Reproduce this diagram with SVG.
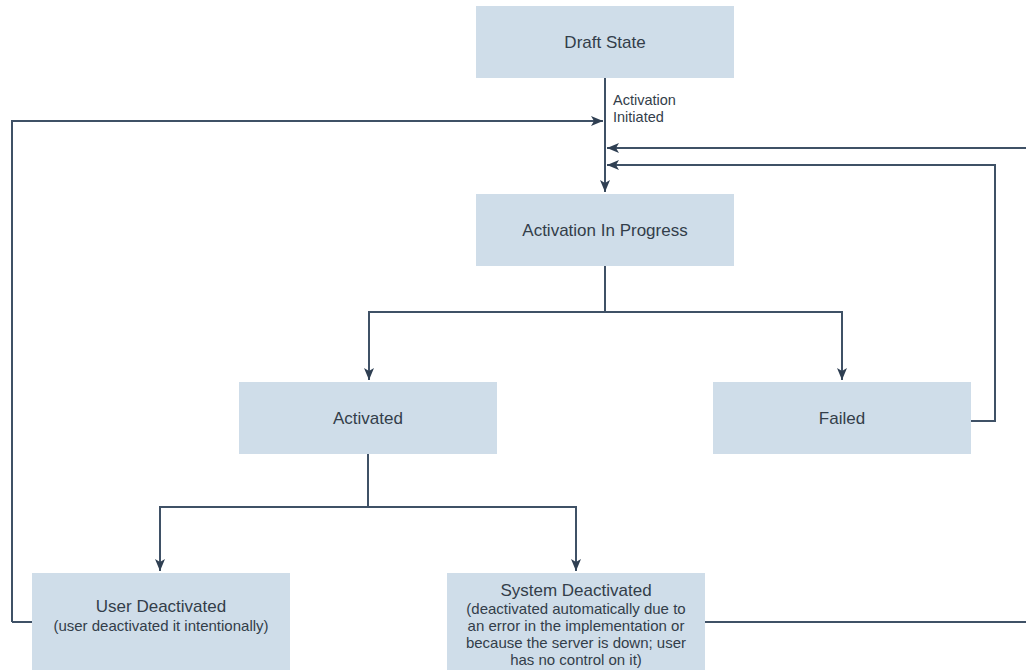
<svg xmlns="http://www.w3.org/2000/svg" width="1026" height="670" viewBox="0 0 1026 670">
<style>
.box{fill:#cfdde9}
.t{font-family:"Liberation Sans",Arial,sans-serif;font-size:17px;fill:#333e4a;text-anchor:middle}
.s{font-family:"Liberation Sans",Arial,sans-serif;font-size:15px;fill:#333e4a;text-anchor:middle}
.l{font-family:"Liberation Sans",Arial,sans-serif;font-size:14.5px;fill:#333e4a}
.c{fill:none;stroke:#3f5166;stroke-width:2}
</style>
<defs>
<marker id="a" viewBox="0 0 12 10" refX="12" refY="5" markerWidth="12" markerHeight="10" markerUnits="userSpaceOnUse" orient="auto">
<path d="M0,0 L12,5 L0,10 L3,5 Z" fill="#2f3f52"/>
</marker>
</defs>
<rect width="1026" height="670" fill="#ffffff"/>
<g id="connectors">
<path class="c" d="M605,78 V192" marker-end="url(#a)"/>
<path class="c" d="M12,622 H32 M12,622 V121 H603" marker-end="url(#a)"/>
<path class="c" d="M1026,148 H607" marker-end="url(#a)"/>
<path class="c" d="M971,421 H995 V165 H607" marker-end="url(#a)"/>
<path class="c" d="M605,266 V312 H369 V380" marker-end="url(#a)"/>
<path class="c" d="M605,312 H842 V380" marker-end="url(#a)"/>
<path class="c" d="M368,454 V507 H160 V571" marker-end="url(#a)"/>
<path class="c" d="M368,507 H576 V571" marker-end="url(#a)"/>
<path class="c" d="M705,622 H1026"/>
<text class="l" x="613" y="105">Activation</text>
<text class="l" x="613" y="122">Initiated</text>
</g>
<g id="draft"><rect class="box" x="476" y="6" width="258" height="72"/><text class="t" x="605" y="48">Draft State</text></g>
<g id="progress"><rect class="box" x="476" y="194" width="258" height="72"/><text class="t" x="605" y="236">Activation In Progress</text></g>
<g id="activated"><rect class="box" x="239" y="382" width="258" height="72"/><text class="t" x="368" y="424">Activated</text></g>
<g id="failed"><rect class="box" x="713" y="382" width="258" height="72"/><text class="t" x="842" y="424">Failed</text></g>
<g id="user"><rect class="box" x="32" y="573" width="258" height="97"/><text class="t" x="161" y="612">User Deactivated</text><text class="s" x="161" y="631">(user deactivated it intentionally)</text></g>
<g id="system"><rect class="box" x="447" y="573" width="258" height="97"/><text class="t" x="576" y="596">System Deactivated</text><text class="s" x="576" y="614">(deactivated automatically due to</text><text class="s" x="576" y="631">an error in the implementation or</text><text class="s" x="576" y="648">because the server is down; user</text><text class="s" x="576" y="665">has no control on it)</text></g>
</svg>
